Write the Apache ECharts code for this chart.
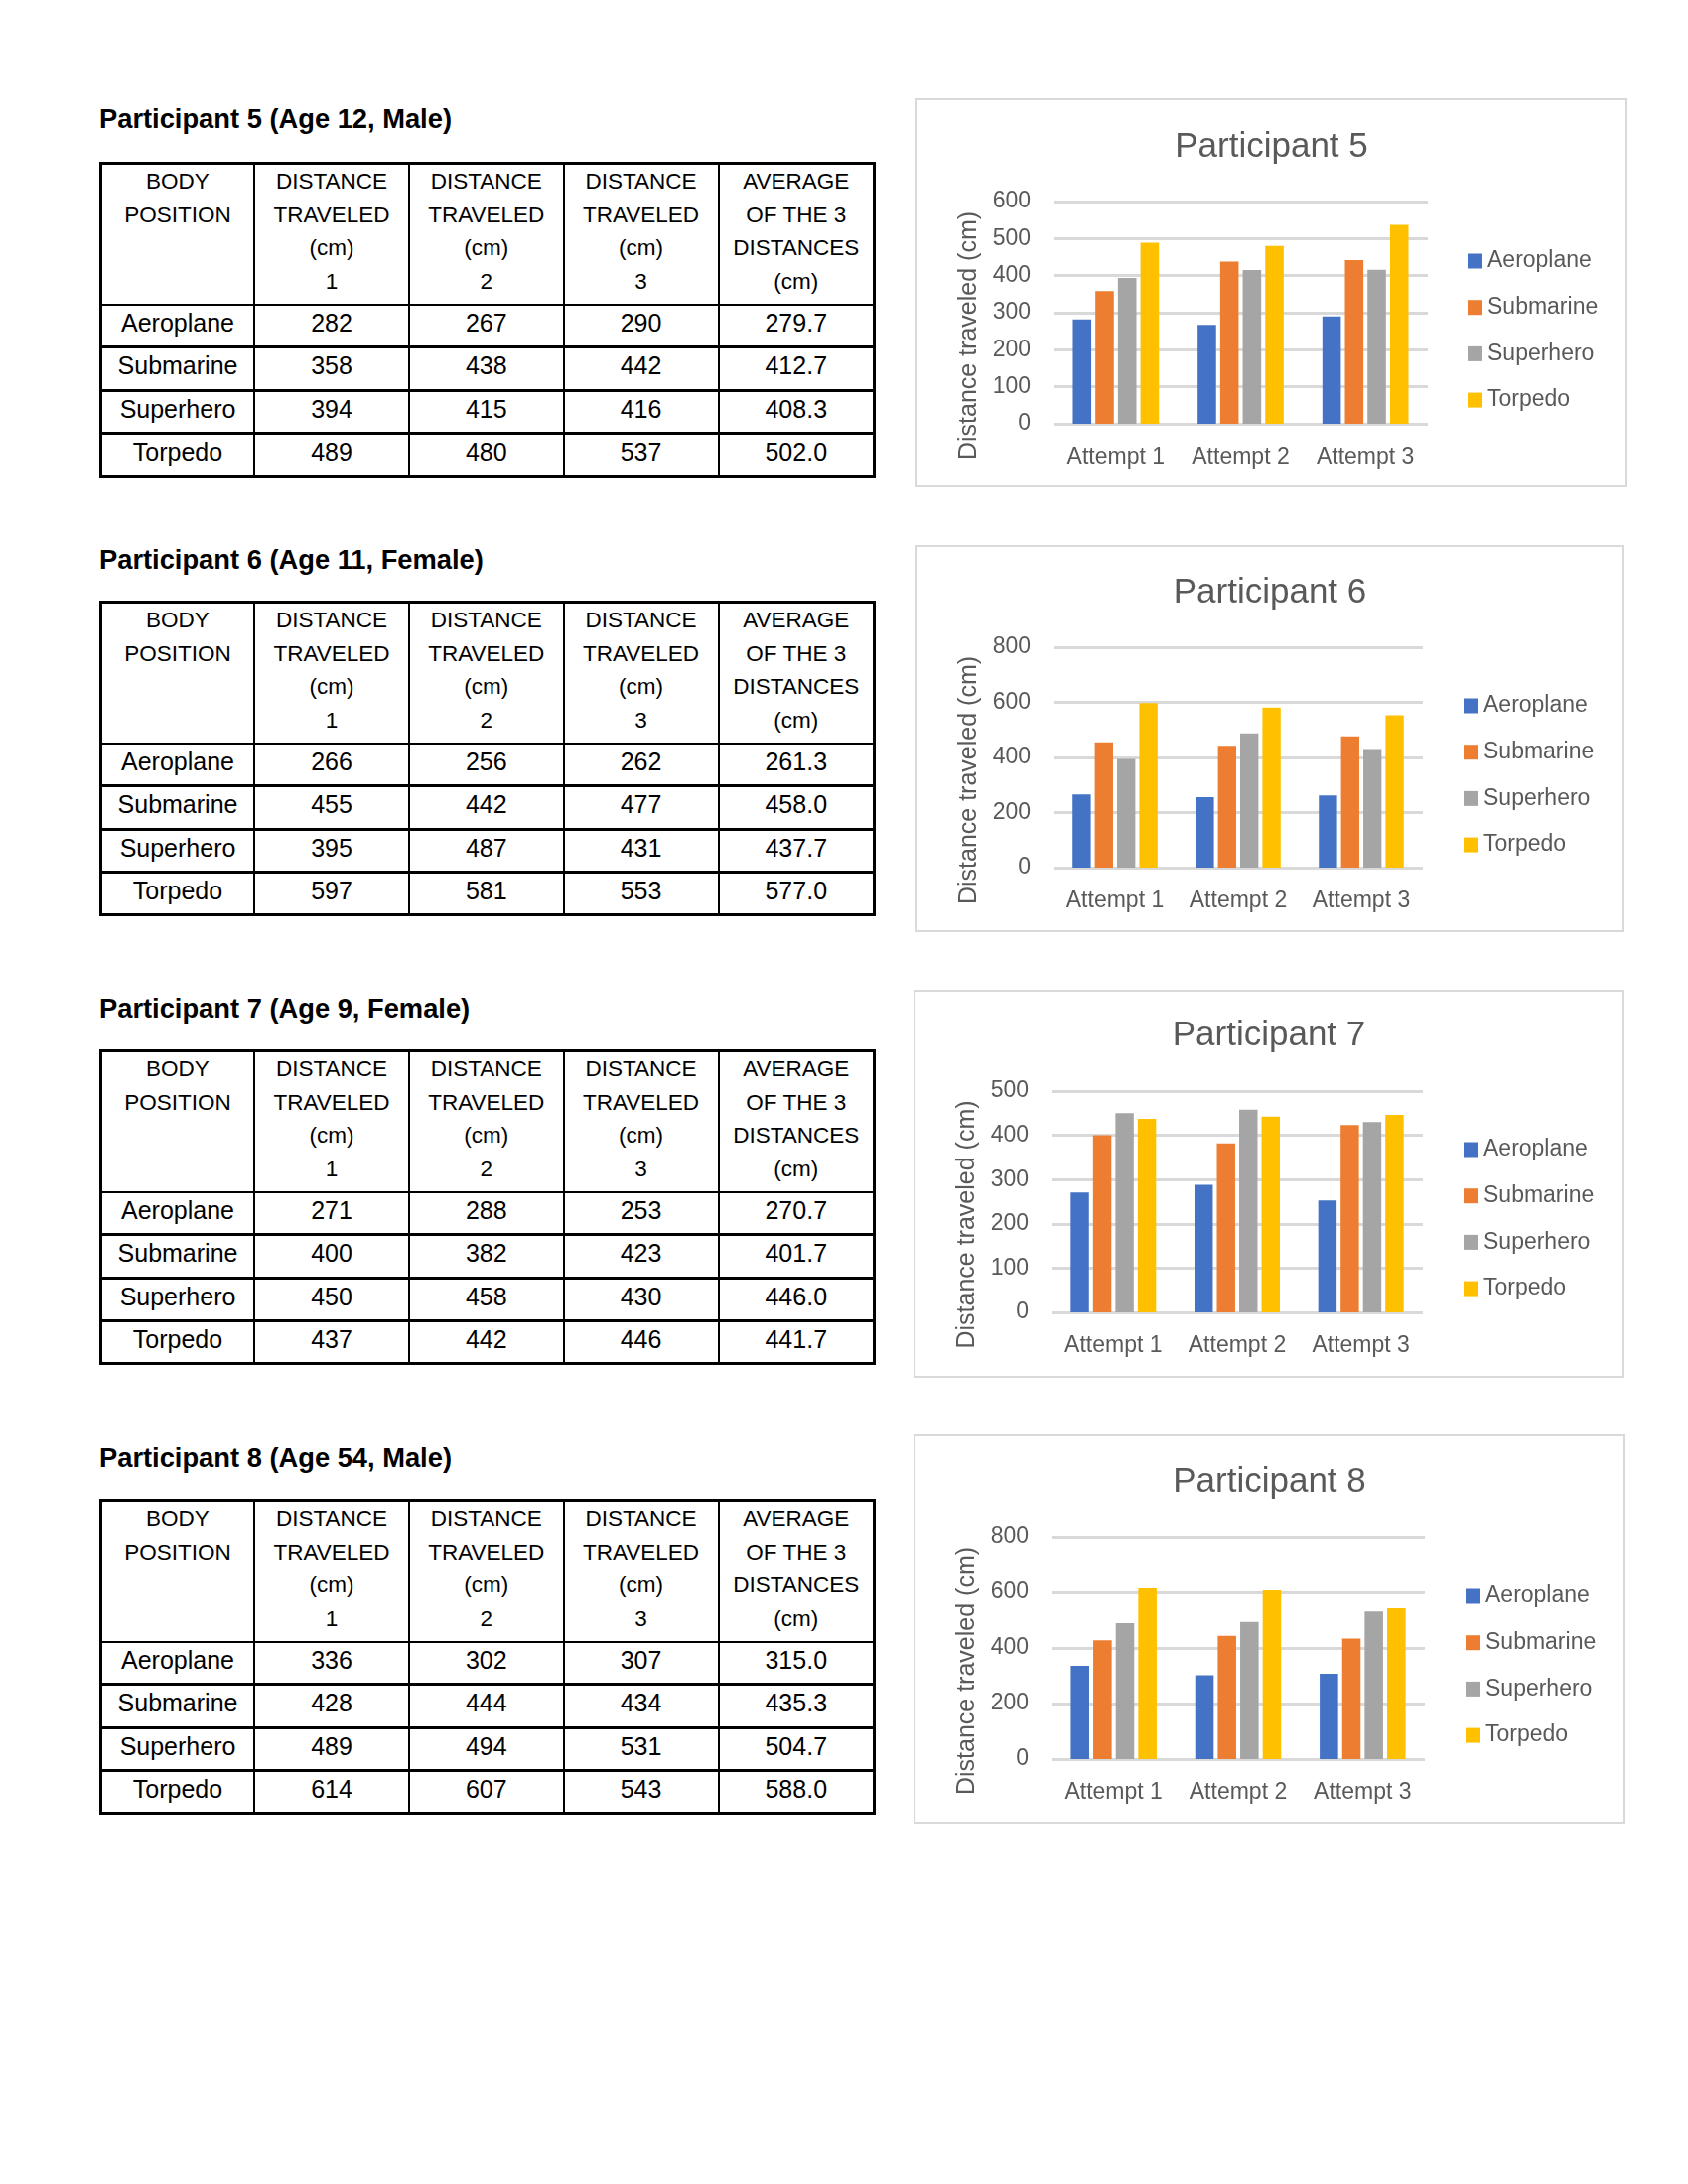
<!DOCTYPE html>
<html>
<head>
<meta charset="utf-8">
<script src="https://cdn.jsdelivr.net/npm/echarts@6/dist/echarts.min.js"></script>
<style>
  html, body { margin:0; padding:0; background:#fff; }
  body { width:1700px; height:2200px; position:relative; font-family:'Liberation Sans', Arial, sans-serif; }
  .ptitle { position:absolute; left:100px; font-weight:bold; font-size:27.3px; line-height:34px; color:#000; white-space:nowrap; }
  table.dt { position:absolute; border-collapse:collapse; table-layout:fixed; border:3px solid #000; color:#000; }
  table.dt td { border:2px solid #000; text-align:center; padding:0; }
  table.dt tr.head td { vertical-align:top; font-size:22.5px; line-height:33.7px; padding-top:0; }
  table.dt tr.row td { vertical-align:middle; font-size:25px; padding-bottom:5px; box-sizing:border-box; }
  table.dt tr.row + tr.row td { border-top:3px solid #000; }
  .frame { position:absolute; border:2px solid #d9d9d9; box-sizing:border-box; }
  .chart { position:absolute; }
</style>
</head>
<body>
<script>
// ---------- data ----------
const attempts = ['Attempt 1', 'Attempt 2', 'Attempt 3'];
const bodyPositions = ['Aeroplane', 'Submarine', 'Superhero', 'Torpedo'];
const headerLines = [
  ['BODY', 'POSITION'],
  ['DISTANCE', 'TRAVELED', '(cm)', '1'],
  ['DISTANCE', 'TRAVELED', '(cm)', '2'],
  ['DISTANCE', 'TRAVELED', '(cm)', '3'],
  ['AVERAGE', 'OF THE 3', 'DISTANCES', '(cm)']
];

// Participant 5 (Age 12, Male)
const p5Aeroplane = [282, 267, 290];
const p5Submarine = [358, 438, 442];
const p5Superhero = [394, 415, 416];
const p5Torpedo   = [489, 480, 537];
const p5Average   = ['279.7', '412.7', '408.3', '502.0'];

// Participant 6 (Age 11, Female)
const p6Aeroplane = [266, 256, 262];
const p6Submarine = [455, 442, 477];
const p6Superhero = [395, 487, 431];
const p6Torpedo   = [597, 581, 553];
const p6Average   = ['261.3', '458.0', '437.7', '577.0'];

// Participant 7 (Age 9, Female)
const p7Aeroplane = [271, 288, 253];
const p7Submarine = [400, 382, 423];
const p7Superhero = [450, 458, 430];
const p7Torpedo   = [437, 442, 446];
const p7Average   = ['270.7', '401.7', '446.0', '441.7'];

// Participant 8 (Age 54, Male)
const p8Aeroplane = [336, 302, 307];
const p8Submarine = [428, 444, 434];
const p8Superhero = [489, 494, 531];
const p8Torpedo   = [614, 607, 543];
const p8Average   = ['315.0', '435.3', '504.7', '588.0'];

const tableTitles = ['Participant 5 (Age 12, Male)', 'Participant 6 (Age 11, Female)', 'Participant 7 (Age 9, Female)', 'Participant 8 (Age 54, Male)'];
const chartTitles = ['Participant 5', 'Participant 6', 'Participant 7', 'Participant 8'];
const yMax = [600, 800, 500, 800];
const yInterval = [100, 200, 100, 200];
const seriesColors = ['#4472C4', '#ED7D31', '#A5A5A5', '#FFC000'];

const participants = [
  { series: [p5Aeroplane, p5Submarine, p5Superhero, p5Torpedo], avg: p5Average },
  { series: [p6Aeroplane, p6Submarine, p6Superhero, p6Torpedo], avg: p6Average },
  { series: [p7Aeroplane, p7Submarine, p7Superhero, p7Torpedo], avg: p7Average },
  { series: [p8Aeroplane, p8Submarine, p8Superhero, p8Torpedo], avg: p8Average }
];

// ---------- layout ----------
const tableLayout = [
  { titleY: 120, top: 163 },
  { titleY: 564, top: 605 },
  { titleY: 1016, top: 1057 },
  { titleY: 1469, top: 1510 }
];
const colWidths = [154.5, 156, 155.5, 156, 157];
const chartLayout = [
  { left: 922, top: 99,   w: 717, h: 392, gl: 139, gt: 104, gw: 377, gh: 224, titleTop: 24, legL: 551, legT: 147 },
  { left: 922, top: 549,  w: 714, h: 390, gl: 139, gt: 103, gw: 372, gh: 222, titleTop: 23, legL: 547, legT: 145 },
  { left: 920, top: 997,  w: 716, h: 391, gl: 139, gt: 102, gw: 374, gh: 223, titleTop: 21, legL: 549, legT: 144 },
  { left: 920, top: 1445, w: 717, h: 392, gl: 139, gt: 103, gw: 376, gh: 224, titleTop: 23, legL: 551, legT: 146 }
];
const FONT = "'Liberation Sans', Arial, sans-serif";

participants.forEach((p, i) => {
  const tl = tableLayout[i];
  const t = document.createElement('div');
  t.className = 'ptitle';
  t.style.top = (tl.titleY - 17) + 'px';
  t.textContent = tableTitles[i];
  document.body.appendChild(t);

  const table = document.createElement('table');
  table.className = 'dt';
  table.style.left = '100px';
  table.style.top = tl.top + 'px';
  const cg = document.createElement('colgroup');
  colWidths.forEach(w => { const c = document.createElement('col'); c.style.width = w + 'px'; cg.appendChild(c); });
  table.appendChild(cg);
  const hr = document.createElement('tr');
  hr.className = 'head';
  hr.style.height = '142px';
  headerLines.forEach(lines => {
    const td = document.createElement('td');
    td.innerHTML = lines.join('<br>');
    hr.appendChild(td);
  });
  table.appendChild(hr);
  bodyPositions.forEach((name, r) => {
    const tr = document.createElement('tr');
    tr.className = 'row';
    tr.style.height = '43.3px';
    const cells = [name, ...p.series[r].map(String), p.avg[r]];
    cells.forEach(v => { const td = document.createElement('td'); td.textContent = v; tr.appendChild(td); });
    table.appendChild(tr);
  });
  document.body.appendChild(table);

  const cl = chartLayout[i];
  const frame = document.createElement('div');
  frame.className = 'frame';
  Object.assign(frame.style, { left: cl.left + 'px', top: cl.top + 'px', width: cl.w + 'px', height: cl.h + 'px' });
  document.body.appendChild(frame);
  const div = document.createElement('div');
  div.className = 'chart';
  Object.assign(div.style, { left: cl.left + 'px', top: cl.top + 'px', width: cl.w + 'px', height: cl.h + 'px' });
  document.body.appendChild(div);

  const chart = echarts.init(div, null, { renderer: 'canvas' });
  chart.setOption({
    animation: false,
    textStyle: { fontFamily: FONT },
    title: {
      text: chartTitles[i], left: 'center', top: cl.titleTop,
      textStyle: { fontFamily: FONT, fontSize: 35, fontWeight: 'normal', color: '#595959', lineHeight: 40 }
    },
    legend: {
      orient: 'vertical', left: cl.legL, top: cl.legT,
      itemWidth: 15, itemHeight: 15, itemGap: 22.7, icon: 'rect',
      textStyle: { fontFamily: FONT, fontSize: 23, color: '#595959', lineHeight: 24 },
      data: bodyPositions
    },
    grid: { left: cl.gl, top: cl.gt, width: cl.gw, height: cl.gh, containLabel: false },
    xAxis: {
      type: 'category', data: attempts,
      axisLine: { show: false }, axisTick: { show: false },
      axisLabel: { interval: 0, fontFamily: FONT, fontSize: 23, color: '#595959', margin: 22 }
    },
    yAxis: {
      type: 'value', min: 0, max: yMax[i], interval: yInterval[i],
      name: 'Distance traveled (cm)', nameLocation: 'middle', nameGap: 70,
      nameTextStyle: { fontFamily: FONT, fontSize: 25, color: '#595959', padding: [0, 46, 0, 0] },
      axisLine: { show: false }, axisTick: { show: false },
      axisLabel: { fontFamily: FONT, fontSize: 23, color: '#595959', margin: 23 },
      splitLine: { lineStyle: { color: '#d9d9d9', width: 3 } }
    },
    series: bodyPositions.map((name, s) => ({
      name, type: 'bar', data: p.series[s],
      barGap: '22%', barCategoryGap: '31%',
      itemStyle: { color: seriesColors[s] }
    }))
  });
});
</script>
</body>
</html>
